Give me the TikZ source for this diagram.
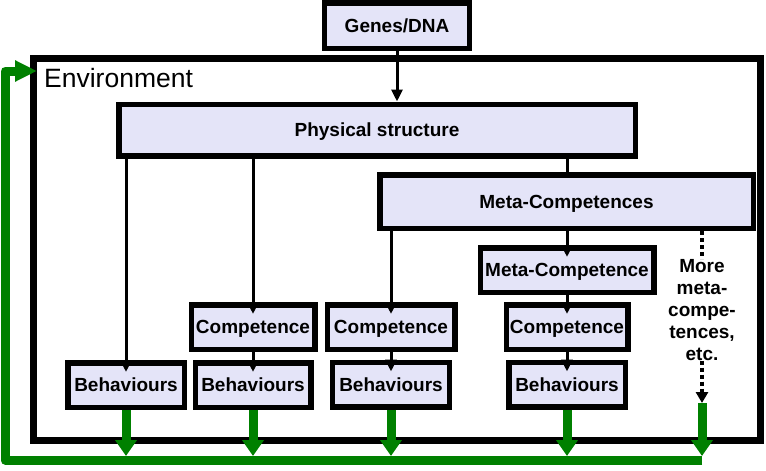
\documentclass[tikz,border=0pt]{standalone}
\usepackage{fontspec}
\setmainfont{Liberation Sans}
\usetikzlibrary{arrows.meta}

\definecolor{boxfill}{RGB}{228,228,248}
\definecolor{loopgreen}{RGB}{0,128,0}

\begin{document}
\begin{tikzpicture}[
    x=1pt, y=-1pt,
    box/.style={draw, line width=5.5pt, fill=boxfill, align=center, minimum height=44.5pt, inner sep=2pt, text height=13.5pt, text depth=0pt, font=\bfseries\fontsize{19}{22}\selectfont},
    arr/.style={-{Triangle[width=11pt,length=12pt]}, line width=3pt, shorten >=-12pt},
    feed/.style={loopgreen, line width=9pt, -{Triangle[width=21pt,length=16pt]}},
    dots/.style={line width=4pt, dash pattern=on 4pt off 3pt},
]
\useasboundingbox (0,0) rectangle (766,471);

% Environment frame
\node[draw, line width=7pt, minimum width=727pt, minimum height=382pt] (env) at (397,249.5) {};
\node[anchor=base west, inner sep=0pt, font=\fontsize{26.5}{30}\selectfont] (envlabel) at (44,87) {Environment};

% Boxes
\node[box, minimum width=145pt, minimum height=45.5pt] (genes) at (397,25.5) {Genes/DNA};
\node[box, minimum width=516.5pt, minimum height=51.5pt] (phys) at (377,130) {Physical structure};
\node[box, minimum width=373.5pt, minimum height=53.5pt] (metas) at (566.5,201.5) {Meta-Competences};
\node[box, minimum width=173.5pt] (meta) at (567,270) {Meta-Competence};

\node[box, minimum width=123.5pt] (comp1) at (253,327) {Competence};
\node[box, minimum width=127.5pt] (comp2) at (391,327) {Competence};
\node[box, minimum width=121.5pt] (comp3) at (567,327) {Competence};

\node[box, minimum width=116.5pt] (beh1) at (126,385) {Behaviours};
\node[box, minimum width=115.5pt] (beh2) at (253,385) {Behaviours};
\node[box, minimum width=117pt] (beh3) at (391,384.5) {Behaviours};
\node[box, minimum width=116.5pt] (beh4) at (567,384.5) {Behaviours};

% More ...
\node[anchor=north, inner sep=0pt, align=center, font=\bfseries\fontsize{19}{22}\selectfont] (more) at (702,259) {More\\meta-\\compe-\\tences,\\etc.};

\coordinate (moretip) at (702,403);
\coordinate (tiprow) at (0,456);
\coordinate (bus) at (5,460);
\coordinate (busup) at (5,71);

% Black arrows
\draw[arr, shorten >=0pt] (genes) -- (genes.south |- phys.north);
\draw[arr] (beh1.north |- phys.south) -- (beh1.north);
\draw[arr] (comp1.north |- phys.south) -- (comp1.north);
\draw[line width=3pt] (phys.south -| meta.north) -- (metas.north -| meta.north);
\draw[arr] (comp2.north |- metas.south) -- (comp2.north);
\draw[arr] (meta.north |- metas.south) -- (meta.north);
\draw[arr] (meta.south -| comp3.north) -- (comp3.north);
\draw[arr] (comp1.south -| beh2.north) -- (beh2.north);
\draw[arr] (comp2.south -| beh3.north) -- (beh3.north);
\draw[arr] (comp3.south -| beh4.north) -- (beh4.north);

% Dotted links
\draw[dots] (metas.south -| more.north) -- (more.north);
\draw[dots, -{Triangle[width=12pt,length=11pt]}] (more.south) -- (moretip);

% Feedback loop
\draw[loopgreen, line width=9pt, line join=round, shorten >=-7pt, -{Triangle[width=20pt,length=22pt]}]
    (moretip |- bus) -- (bus) -- (busup) -- (busup -| env.west);
\foreach \b in {beh1,beh2,beh3,beh4}
    \draw[feed] (\b.south) -- (\b.south |- tiprow);
\draw[feed] (moretip) -- (moretip |- tiprow);
\end{tikzpicture}
\end{document}
